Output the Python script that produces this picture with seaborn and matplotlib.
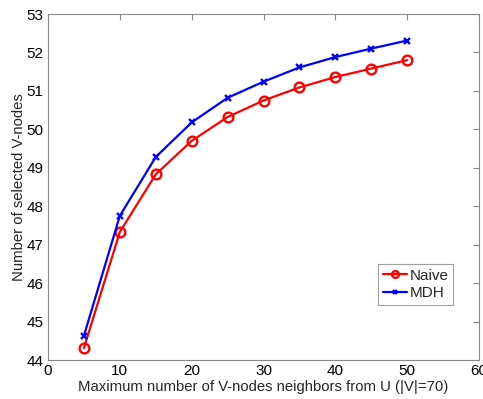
import matplotlib
matplotlib.use("Agg")
import matplotlib.pyplot as plt
import seaborn as sns
import pandas as pd

x_vals = [5, 10, 15, 20, 25, 30, 35, 40, 45, 50]
naive = [44.31, 47.33, 48.83, 49.70, 50.32, 50.75, 51.09, 51.36, 51.58, 51.80]
mdh = [44.63, 47.75, 49.28, 50.18, 50.82, 51.24, 51.61, 51.88, 52.10, 52.31]
series_names = ["Naive", "MDH"]
x_ticks = [0, 10, 20, 30, 40, 50, 60]
y_ticks = [44, 45, 46, 47, 48, 49, 50, 51, 52, 53]

sns.set_style("white")
plt.rcParams["font.family"] = ["Liberation Sans", "DejaVu Sans"]

fig = plt.figure(figsize=(4.83, 3.99), dpi=100)
ax = fig.add_axes([48 / 483, 39 / 399, 431 / 483, 346 / 399])

styles = [("#ff0000", "o", 7), ("#0000ff", "x", 5)]
for name, vals, (col, mk, ms) in zip(series_names, [naive, mdh], styles):
    d = pd.DataFrame({"x": x_vals, "y": vals})
    sns.lineplot(data=d, x="x", y="y", color=col, marker=mk, linewidth=1.6,
                 markersize=ms, markeredgewidth=1.7,
                 markerfacecolor="none", markeredgecolor=col, label=name, ax=ax)

ax.set_xlim(0, 60)
ax.set_ylim(44, 53)
ax.set_xticks(x_ticks)
ax.set_yticks(y_ticks)
ax.tick_params(direction="in", length=4, top=True, right=True, labelsize=11,
               color="#888888", labelcolor="black", pad=3)
for s in ax.spines.values():
    s.set_color("#888888")
    s.set_linewidth(0.8)
ax.set_xlabel("Maximum number of V-nodes neighbors from U (|V|=70)", fontsize=10.7, labelpad=1)
ax.set_ylabel("Number of selected V-nodes", fontsize=10.7, labelpad=0.5)

leg = ax.legend(loc="center right", bbox_to_anchor=(0.94, 0.218), fontsize=11,
                frameon=True, fancybox=False, edgecolor="#888888",
                handlelength=1.6, handletextpad=0.15, borderpad=0.3,
                labelspacing=0.25, markerscale=0.7, borderaxespad=0)
leg.get_frame().set_linewidth(0.8)
for h in leg.get_lines():
    h.set_linewidth(1.6)

fig.savefig("out.png", dpi=100)
